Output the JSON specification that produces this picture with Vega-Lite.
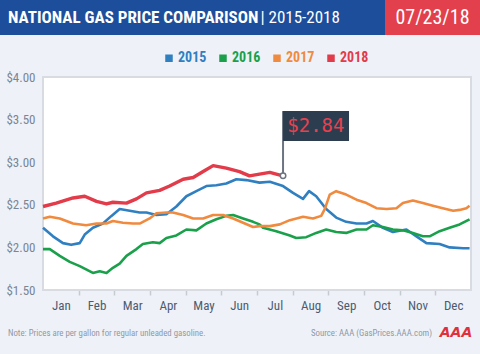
{
  "$schema": "https://vega.github.io/schema/vega-lite/v6.json",
  "padding": 0,
  "background": "#eef2f8",
  "spacing": 0,
  "config": {
    "view": {"stroke": null},
    "font": "Liberation Sans Narrow, Roboto Condensed, Roboto, sans-serif"
  },
  "resolve": {"scale": {"color": "independent"}, "legend": {"color": "independent"}},
  "datasets": {
    "prices": [
      {"year": "2015", "month": 0.00, "price": 2.23}, {"year": "2015", "month": 0.28, "price": 2.13}, {"year": "2015", "month": 0.56, "price": 2.05}, {"year": "2015", "month": 0.79, "price": 2.03}, {"year": "2015", "month": 1.03, "price": 2.05}, {"year": "2015", "month": 1.17, "price": 2.15}, {"year": "2015", "month": 1.40, "price": 2.23}, {"year": "2015", "month": 1.68, "price": 2.28}, {"year": "2015", "month": 1.92, "price": 2.37}, {"year": "2015", "month": 2.15, "price": 2.45}, {"year": "2015", "month": 2.43, "price": 2.43}, {"year": "2015", "month": 2.71, "price": 2.41}, {"year": "2015", "month": 2.90, "price": 2.41}, {"year": "2015", "month": 3.18, "price": 2.38}, {"year": "2015", "month": 3.46, "price": 2.39}, {"year": "2015", "month": 3.74, "price": 2.48}, {"year": "2015", "month": 4.02, "price": 2.60}, {"year": "2015", "month": 4.30, "price": 2.66}, {"year": "2015", "month": 4.58, "price": 2.72}, {"year": "2015", "month": 4.86, "price": 2.73}, {"year": "2015", "month": 5.14, "price": 2.75}, {"year": "2015", "month": 5.42, "price": 2.80}, {"year": "2015", "month": 5.70, "price": 2.79}, {"year": "2015", "month": 6.07, "price": 2.76}, {"year": "2015", "month": 6.36, "price": 2.77}, {"year": "2015", "month": 6.73, "price": 2.72}, {"year": "2015", "month": 7.01, "price": 2.64}, {"year": "2015", "month": 7.29, "price": 2.57}, {"year": "2015", "month": 7.46, "price": 2.66}, {"year": "2015", "month": 7.66, "price": 2.60}, {"year": "2015", "month": 7.94, "price": 2.45}, {"year": "2015", "month": 8.22, "price": 2.35}, {"year": "2015", "month": 8.50, "price": 2.30}, {"year": "2015", "month": 8.79, "price": 2.28}, {"year": "2015", "month": 9.07, "price": 2.28}, {"year": "2015", "month": 9.25, "price": 2.31}, {"year": "2015", "month": 9.53, "price": 2.23}, {"year": "2015", "month": 9.81, "price": 2.18}, {"year": "2015", "month": 10.19, "price": 2.21}, {"year": "2015", "month": 10.47, "price": 2.13}, {"year": "2015", "month": 10.75, "price": 2.05}, {"year": "2015", "month": 11.12, "price": 2.04}, {"year": "2015", "month": 11.40, "price": 2.00}, {"year": "2015", "month": 11.78, "price": 1.99}, {"year": "2015", "month": 11.96, "price": 1.99},
      {"year": "2016", "month": 0.00, "price": 1.98}, {"year": "2016", "month": 0.19, "price": 1.98}, {"year": "2016", "month": 0.47, "price": 1.90}, {"year": "2016", "month": 0.75, "price": 1.83}, {"year": "2016", "month": 1.03, "price": 1.78}, {"year": "2016", "month": 1.40, "price": 1.70}, {"year": "2016", "month": 1.59, "price": 1.72}, {"year": "2016", "month": 1.78, "price": 1.70}, {"year": "2016", "month": 1.96, "price": 1.76}, {"year": "2016", "month": 2.15, "price": 1.81}, {"year": "2016", "month": 2.34, "price": 1.90}, {"year": "2016", "month": 2.62, "price": 1.98}, {"year": "2016", "month": 2.80, "price": 2.04}, {"year": "2016", "month": 3.08, "price": 2.06}, {"year": "2016", "month": 3.27, "price": 2.05}, {"year": "2016", "month": 3.46, "price": 2.11}, {"year": "2016", "month": 3.74, "price": 2.14}, {"year": "2016", "month": 4.02, "price": 2.21}, {"year": "2016", "month": 4.30, "price": 2.20}, {"year": "2016", "month": 4.58, "price": 2.28}, {"year": "2016", "month": 4.86, "price": 2.33}, {"year": "2016", "month": 5.14, "price": 2.37}, {"year": "2016", "month": 5.33, "price": 2.38}, {"year": "2016", "month": 5.61, "price": 2.34}, {"year": "2016", "month": 5.89, "price": 2.30}, {"year": "2016", "month": 6.07, "price": 2.27}, {"year": "2016", "month": 6.17, "price": 2.23}, {"year": "2016", "month": 6.54, "price": 2.19}, {"year": "2016", "month": 6.92, "price": 2.14}, {"year": "2016", "month": 7.10, "price": 2.11}, {"year": "2016", "month": 7.38, "price": 2.12}, {"year": "2016", "month": 7.66, "price": 2.17}, {"year": "2016", "month": 7.94, "price": 2.21}, {"year": "2016", "month": 8.22, "price": 2.18}, {"year": "2016", "month": 8.50, "price": 2.17}, {"year": "2016", "month": 8.79, "price": 2.21}, {"year": "2016", "month": 9.07, "price": 2.21}, {"year": "2016", "month": 9.25, "price": 2.26}, {"year": "2016", "month": 9.53, "price": 2.24}, {"year": "2016", "month": 9.81, "price": 2.21}, {"year": "2016", "month": 10.09, "price": 2.20}, {"year": "2016", "month": 10.37, "price": 2.17}, {"year": "2016", "month": 10.65, "price": 2.13}, {"year": "2016", "month": 10.84, "price": 2.13}, {"year": "2016", "month": 11.12, "price": 2.19}, {"year": "2016", "month": 11.40, "price": 2.23}, {"year": "2016", "month": 11.68, "price": 2.27}, {"year": "2016", "month": 11.96, "price": 2.33},
      {"year": "2017", "month": 0.00, "price": 2.34}, {"year": "2017", "month": 0.19, "price": 2.36}, {"year": "2017", "month": 0.47, "price": 2.34}, {"year": "2017", "month": 0.84, "price": 2.28}, {"year": "2017", "month": 1.21, "price": 2.26}, {"year": "2017", "month": 1.50, "price": 2.28}, {"year": "2017", "month": 1.78, "price": 2.28}, {"year": "2017", "month": 1.96, "price": 2.31}, {"year": "2017", "month": 2.24, "price": 2.29}, {"year": "2017", "month": 2.52, "price": 2.28}, {"year": "2017", "month": 2.71, "price": 2.28}, {"year": "2017", "month": 2.99, "price": 2.34}, {"year": "2017", "month": 3.18, "price": 2.40}, {"year": "2017", "month": 3.46, "price": 2.41}, {"year": "2017", "month": 3.64, "price": 2.41}, {"year": "2017", "month": 3.93, "price": 2.38}, {"year": "2017", "month": 4.21, "price": 2.34}, {"year": "2017", "month": 4.49, "price": 2.34}, {"year": "2017", "month": 4.77, "price": 2.38}, {"year": "2017", "month": 5.05, "price": 2.38}, {"year": "2017", "month": 5.33, "price": 2.34}, {"year": "2017", "month": 5.61, "price": 2.29}, {"year": "2017", "month": 5.89, "price": 2.24}, {"year": "2017", "month": 6.07, "price": 2.25}, {"year": "2017", "month": 6.36, "price": 2.25}, {"year": "2017", "month": 6.64, "price": 2.27}, {"year": "2017", "month": 6.92, "price": 2.32}, {"year": "2017", "month": 7.29, "price": 2.36}, {"year": "2017", "month": 7.57, "price": 2.34}, {"year": "2017", "month": 7.80, "price": 2.37}, {"year": "2017", "month": 7.90, "price": 2.45}, {"year": "2017", "month": 8.04, "price": 2.62}, {"year": "2017", "month": 8.22, "price": 2.66}, {"year": "2017", "month": 8.50, "price": 2.62}, {"year": "2017", "month": 8.79, "price": 2.56}, {"year": "2017", "month": 9.07, "price": 2.52}, {"year": "2017", "month": 9.35, "price": 2.46}, {"year": "2017", "month": 9.63, "price": 2.45}, {"year": "2017", "month": 9.91, "price": 2.46}, {"year": "2017", "month": 10.09, "price": 2.52}, {"year": "2017", "month": 10.37, "price": 2.55}, {"year": "2017", "month": 10.65, "price": 2.52}, {"year": "2017", "month": 10.93, "price": 2.49}, {"year": "2017", "month": 11.21, "price": 2.46}, {"year": "2017", "month": 11.50, "price": 2.43}, {"year": "2017", "month": 11.68, "price": 2.44}, {"year": "2017", "month": 11.87, "price": 2.46}, {"year": "2017", "month": 11.96, "price": 2.49},
      {"year": "2018", "month": 0.00, "price": 2.48}, {"year": "2018", "month": 0.37, "price": 2.52}, {"year": "2018", "month": 0.84, "price": 2.58}, {"year": "2018", "month": 1.17, "price": 2.60}, {"year": "2018", "month": 1.50, "price": 2.54}, {"year": "2018", "month": 1.78, "price": 2.51}, {"year": "2018", "month": 1.96, "price": 2.53}, {"year": "2018", "month": 2.34, "price": 2.52}, {"year": "2018", "month": 2.62, "price": 2.57}, {"year": "2018", "month": 2.90, "price": 2.64}, {"year": "2018", "month": 3.27, "price": 2.67}, {"year": "2018", "month": 3.55, "price": 2.72}, {"year": "2018", "month": 3.93, "price": 2.80}, {"year": "2018", "month": 4.21, "price": 2.82}, {"year": "2018", "month": 4.49, "price": 2.89}, {"year": "2018", "month": 4.77, "price": 2.96}, {"year": "2018", "month": 5.14, "price": 2.93}, {"year": "2018", "month": 5.51, "price": 2.89}, {"year": "2018", "month": 5.79, "price": 2.84}, {"year": "2018", "month": 6.07, "price": 2.86}, {"year": "2018", "month": 6.36, "price": 2.88}, {"year": "2018", "month": 6.54, "price": 2.86}, {"year": "2018", "month": 6.73, "price": 2.84}
    ],
    "latest": [{"year": "2018", "month": 6.73, "price": 2.84, "label": "$2.84"}],
    "gridlevels": [{"level": 2.0}, {"level": 2.5}, {"level": 3.0}, {"level": 3.5}]
  },
  "vconcat": [
    {
      "spacing": 0,
      "hconcat": [
        {
          "width": 385, "height": 35,
          "view": {"fill": "#1d4e9b", "stroke": null},
          "data": {"values": [{"t1": "NATIONAL GAS PRICE COMPARISON", "t2": "| 2015-2018"}]},
          "layer": [
            {"mark": {"type": "text", "align": "left", "baseline": "middle", "dx": -184.5, "fontSize": 17, "fontWeight": "bold", "color": "white"}, "encoding": {"text": {"field": "t1"}}},
            {"mark": {"type": "text", "align": "left", "baseline": "middle", "dx": 68, "fontSize": 17, "fontWeight": "normal", "color": "white"}, "encoding": {"text": {"field": "t2"}}}
          ]
        },
        {
          "width": 95, "height": 35,
          "view": {"fill": "#e2404c", "stroke": null},
          "data": {"values": [{"d": "07/23/18"}]},
          "mark": {"type": "text", "align": "center", "baseline": "middle", "fontSize": 20, "color": "white"},
          "encoding": {"text": {"field": "d"}}
        }
      ]
    },
    {
      "width": 480, "height": 285,
      "data": {"name": "prices"},
      "encoding": {
        "x": {"field": "month", "type": "quantitative", "scale": {"domain": [0, 12], "range": [43, 471], "nice": false, "zero": false},
          "axis": {"values": [1, 2, 3, 4, 5, 6, 7, 8, 9, 10, 11, 12], "offset": -30,
            "labelExpr": "['Jan','Feb','Mar','Apr','May','Jun','Jul','Aug','Sep','Oct','Nov','Dec'][datum.value - 1]",
            "labelOffset": -17.8, "labelOverlap": false, "labelFlush": false, "labelBound": false, "domain": false, "grid": false,
            "tickSize": 5, "tickWidth": 1.5, "tickColor": "#c6cbd2",
            "tickOpacity": {"condition": {"test": "datum.value >= 12", "value": 0}, "value": 1},
            "labelFontSize": 13, "labelColor": "#4d5b70", "labelPadding": 4, "title": null}},
        "y": {"field": "price", "type": "quantitative", "scale": {"domain": [1.5, 4.0], "range": [255, 42], "nice": false, "zero": false},
          "axis": {"values": [1.5, 2, 2.5, 3, 3.5, 4], "format": "$.2f", "title": null, "domain": false, "ticks": false, "offset": -43,
            "grid": false, "labelFontSize": 13, "labelColor": "#7b8594", "labelPadding": 8}}
      },
      "layer": [
        {
          "mark": {"type": "rect", "fill": "white", "stroke": "#d8dce2", "strokeWidth": 2},
          "encoding": {
            "x": {"datum": 0},
            "x2": {"datum": 12},
            "y": {"datum": 1.5},
            "y2": {"datum": 4.0}
          }
        },
        {
          "data": {"name": "gridlevels"},
          "mark": {"type": "rule", "color": "#dadde2", "strokeWidth": 1.5},
          "encoding": {
            "x": {"datum": 0},
            "x2": {"datum": 12},
            "y": {"field": "level", "type": "quantitative"}
          }
        },
        {
          "transform": [{"filter": "datum.year != '2018'"}],
          "mark": {"type": "line", "strokeWidth": 2.6, "strokeJoin": "round"},
          "encoding": {
            "color": {"field": "year", "type": "nominal",
              "scale": {"domain": ["2015", "2016", "2017", "2018"], "range": ["#2f7fc1", "#1aa04b", "#f08a3e", "#e23b4a"]},
              "legend": {"orient": "none", "legendX": 162, "legendY": 16, "direction": "horizontal", "title": null,
                "symbolType": "square", "symbolSize": 1, "symbolStrokeWidth": 6.5, "symbolOpacity": 1,
                "labelFontSize": 14, "labelFontWeight": "bold", "columnPadding": 2, "labelOffset": 2,
                "labelColor": {"expr": "datum.value == '2015' ? '#2f7fc1' : datum.value == '2016' ? '#1aa04b' : datum.value == '2017' ? '#f08a3e' : '#e23b4a'"}}}
          }
        },
        {
          "transform": [{"filter": "datum.year == '2018'"}],
          "mark": {"type": "line", "strokeWidth": 3.4, "strokeJoin": "round"},
          "encoding": {
            "color": {"field": "year", "type": "nominal"}
          }
        },
        {
          "data": {"name": "latest"},
          "mark": {"type": "rule", "color": "#6b7480", "strokeWidth": 2},
          "encoding": {
            "y2": {"datum": 3.6}
          }
        },
        {
          "data": {"name": "latest"},
          "mark": {"type": "rect", "color": "#2c3d50"},
          "encoding": {
            "x2": {"datum": 8.58},
            "y": {"datum": 3.25},
            "y2": {"datum": 3.6}
          }
        },
        {
          "data": {"name": "latest"},
          "mark": {"type": "text", "color": "#e8414e", "font": "DejaVu Sans Mono", "fontSize": 19, "align": "center", "baseline": "middle"},
          "encoding": {
            "x": {"datum": 7.65},
            "y": {"datum": 3.425},
            "text": {"field": "label"}
          }
        },
        {
          "data": {"name": "latest"},
          "mark": {"type": "point", "filled": true, "fill": "white", "stroke": "#6b7480", "strokeWidth": 1.5, "size": 30, "opacity": 1}
        }
      ]
    },
    {
      "width": 480, "height": 34,
      "data": {"values": [{"note": "Note: Prices are per gallon for regular unleaded gasoline.", "source": "Source: AAA (GasPrices.AAA.com)", "logo": "AAA"}]},
      "layer": [
        {"mark": {"type": "text", "align": "left", "baseline": "middle", "dx": -232, "dy": -4, "fontSize": 8.8, "color": "#8e98a7"}, "encoding": {"text": {"field": "note"}}},
        {"mark": {"type": "text", "align": "right", "baseline": "middle", "dx": 192, "dy": -4, "fontSize": 8.8, "color": "#8e98a7"}, "encoding": {"text": {"field": "source"}}},
        {"mark": {"type": "text", "align": "center", "baseline": "middle", "dx": 216, "dy": -4, "fontSize": 14, "fontWeight": "bold", "fontStyle": "italic", "font": "DejaVu Sans", "color": "#e0303c"}, "encoding": {"text": {"field": "logo"}}}
      ]
    }
  ]
}
